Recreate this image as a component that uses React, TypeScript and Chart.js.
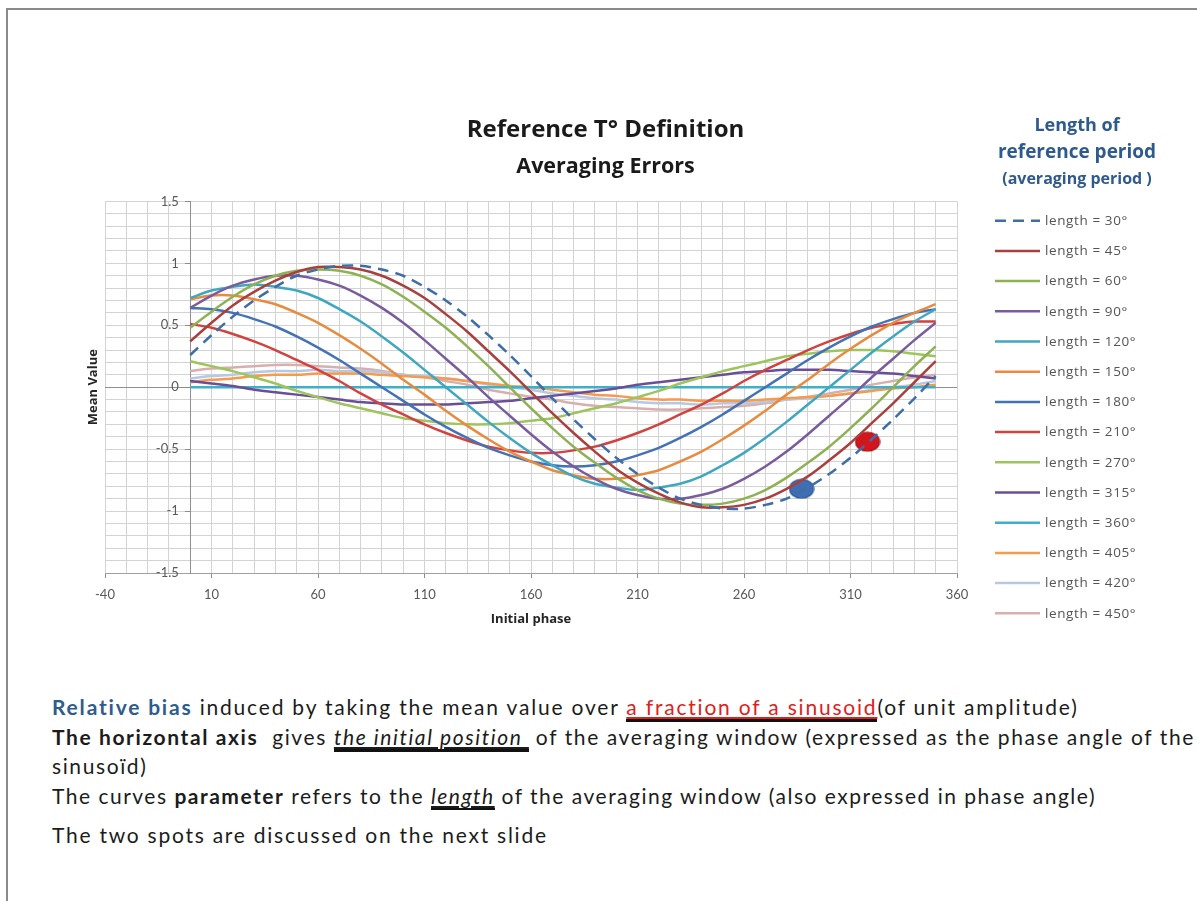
import React, { useEffect, useRef } from 'react';
import { Chart, registerables } from 'chart.js';

Chart.register(...registerables);

// ---- data ----
const phases = [0, 10, 20, 30, 40, 50, 60, 70, 80, 90, 100, 110, 120, 130, 140, 150, 160, 170, 180, 190, 200, 210, 220, 230, 240, 250, 260, 270, 280, 290, 300, 310, 320, 330, 340, 350];

const len30 = [0.26, 0.42, 0.57, 0.70, 0.81, 0.90, 0.95, 0.98, 0.98, 0.95, 0.90, 0.81, 0.70, 0.57, 0.42, 0.26, 0.09, -0.09, -0.26, -0.42, -0.57, -0.70, -0.81, -0.90, -0.95, -0.98, -0.98, -0.95, -0.90, -0.81, -0.70, -0.57, -0.42, -0.26, -0.09, 0.09];
const len45 = [0.37, 0.52, 0.66, 0.77, 0.86, 0.93, 0.97, 0.97, 0.95, 0.90, 0.82, 0.72, 0.59, 0.45, 0.29, 0.13, -0.04, -0.21, -0.37, -0.52, -0.66, -0.77, -0.86, -0.93, -0.97, -0.97, -0.95, -0.90, -0.82, -0.72, -0.59, -0.45, -0.29, -0.13, 0.04, 0.21];
const len60 = [0.48, 0.61, 0.73, 0.83, 0.90, 0.94, 0.95, 0.94, 0.90, 0.83, 0.73, 0.61, 0.48, 0.33, 0.17, 0, -0.17, -0.33, -0.48, -0.61, -0.73, -0.83, -0.90, -0.94, -0.95, -0.94, -0.90, -0.83, -0.73, -0.61, -0.48, -0.33, -0.17, 0, 0.17, 0.33];
const len90 = [0.64, 0.74, 0.82, 0.87, 0.90, 0.90, 0.87, 0.82, 0.74, 0.64, 0.52, 0.38, 0.23, 0.08, -0.08, -0.23, -0.38, -0.52, -0.64, -0.74, -0.82, -0.87, -0.90, -0.90, -0.87, -0.82, -0.74, -0.64, -0.52, -0.38, -0.23, -0.08, 0.08, 0.23, 0.38, 0.52];
const len120 = [0.72, 0.78, 0.81, 0.83, 0.81, 0.78, 0.72, 0.63, 0.53, 0.41, 0.28, 0.14, 0, -0.14, -0.28, -0.41, -0.53, -0.63, -0.72, -0.78, -0.81, -0.83, -0.81, -0.78, -0.72, -0.63, -0.53, -0.41, -0.28, -0.14, 0, 0.14, 0.28, 0.41, 0.53, 0.63];
const len150 = [0.71, 0.74, 0.74, 0.71, 0.67, 0.60, 0.52, 0.42, 0.31, 0.19, 0.06, -0.06, -0.19, -0.31, -0.42, -0.52, -0.60, -0.67, -0.71, -0.74, -0.74, -0.71, -0.67, -0.60, -0.52, -0.42, -0.31, -0.19, -0.06, 0.06, 0.19, 0.31, 0.42, 0.52, 0.60, 0.67];
const len180 = [0.64, 0.63, 0.60, 0.55, 0.49, 0.41, 0.32, 0.22, 0.11, 0, -0.11, -0.22, -0.32, -0.41, -0.49, -0.55, -0.60, -0.63, -0.64, -0.63, -0.60, -0.55, -0.49, -0.41, -0.32, -0.22, -0.11, 0, 0.11, 0.22, 0.32, 0.41, 0.49, 0.55, 0.60, 0.63];
const len210 = [0.51, 0.48, 0.43, 0.37, 0.30, 0.22, 0.14, 0.05, -0.05, -0.14, -0.22, -0.30, -0.37, -0.43, -0.48, -0.51, -0.53, -0.53, -0.51, -0.48, -0.43, -0.37, -0.30, -0.22, -0.14, -0.05, 0.05, 0.14, 0.22, 0.30, 0.37, 0.43, 0.48, 0.51, 0.53, 0.53];
const len270 = [0.21, 0.17, 0.13, 0.08, 0.03, -0.03, -0.08, -0.13, -0.17, -0.21, -0.25, -0.27, -0.29, -0.30, -0.30, -0.29, -0.27, -0.25, -0.21, -0.17, -0.13, -0.08, -0.03, 0.03, 0.08, 0.13, 0.17, 0.21, 0.25, 0.27, 0.29, 0.30, 0.30, 0.29, 0.27, 0.25];
const len315 = [0.05, 0.03, 0.01, -0.02, -0.04, -0.06, -0.08, -0.10, -0.12, -0.13, -0.14, -0.14, -0.14, -0.13, -0.12, -0.11, -0.09, -0.07, -0.05, -0.03, -0.01, 0.02, 0.04, 0.06, 0.08, 0.10, 0.12, 0.13, 0.14, 0.14, 0.14, 0.13, 0.12, 0.11, 0.09, 0.07];
const len360 = [0, 0, 0, 0, 0, 0, 0, 0, 0, 0, 0, 0, 0, 0, 0, 0, 0, 0, 0, 0, 0, 0, 0, 0, 0, 0, 0, 0, 0, 0, 0, 0, 0, 0, 0, 0];
const len405 = [0.04, 0.06, 0.07, 0.09, 0.10, 0.10, 0.11, 0.11, 0.11, 0.10, 0.09, 0.08, 0.07, 0.05, 0.03, 0.01, 0, -0.02, -0.04, -0.06, -0.07, -0.09, -0.10, -0.10, -0.11, -0.11, -0.11, -0.10, -0.09, -0.08, -0.07, -0.05, -0.03, -0.01, 0, 0.02];
const len420 = [0.07, 0.09, 0.10, 0.12, 0.13, 0.13, 0.14, 0.13, 0.13, 0.12, 0.10, 0.09, 0.07, 0.05, 0.02, 0, -0.02, -0.05, -0.07, -0.09, -0.10, -0.12, -0.13, -0.13, -0.14, -0.13, -0.13, -0.12, -0.10, -0.09, -0.07, -0.05, -0.02, 0, 0.02, 0.05];
const len450 = [0.13, 0.15, 0.16, 0.17, 0.18, 0.18, 0.17, 0.16, 0.15, 0.13, 0.10, 0.08, 0.05, 0.02, -0.02, -0.05, -0.08, -0.10, -0.13, -0.15, -0.16, -0.17, -0.18, -0.18, -0.17, -0.16, -0.15, -0.13, -0.10, -0.08, -0.05, -0.02, 0.02, 0.05, 0.08, 0.10];

const seriesLabels = ['length = 30°', 'length = 45°', 'length = 60°', 'length = 90°', 'length = 120°', 'length = 150°', 'length = 180°', 'length = 210°', 'length = 270°', 'length = 315°', 'length = 360°', 'length = 405°', 'length = 420°', 'length = 450°'];
const seriesValues = [len30, len45, len60, len90, len120, len150, len180, len210, len270, len315, len360, len405, len420, len450];
const seriesColors = ['#3E6DA8', '#A9403D', '#8EB253', '#7A5C9E', '#3FA7C0', '#E98B3F', '#4472B6', '#D2423E', '#9CC55C', '#6A4E99', '#3DB0CA', '#F59B4D', '#B7C8E4', '#D8AFAD'];

const spotPhases = [287, 318];
const spotValues = [-0.82, -0.44];
const spotColors = ['#3F6FB2', '#D3161E'];

const xMajorTicks = [-40, 10, 60, 110, 160, 210, 260, 310, 360];
const yMajorTicks = [-1.5, -1, -0.5, 0, 0.5, 1, 1.5];

const FONT = 'Lato, "Open Sans", sans-serif';
const WIDE = '"Open Sans", Lato, sans-serif';

function isMajorX(v: number) {
  return xMajorTicks.some((t) => Math.abs(t - v) < 1e-6);
}
function isMajorY(v: number) {
  return yMajorTicks.some((t) => Math.abs(t - v) < 1e-6);
}

function ellipseStyle(fill: string, stroke: string) {
  const c = document.createElement('canvas');
  c.width = 26;
  c.height = 21;
  const g = c.getContext('2d')!;
  g.beginPath();
  g.ellipse(13, 10.5, 12, 9.5, 0, 0, Math.PI * 2);
  g.fillStyle = fill;
  g.fill();
  g.lineWidth = 1.2;
  g.strokeStyle = stroke;
  g.stroke();
  return c;
}

const sideLegend = {
  id: 'sideLegend',
  afterDraw(chart: any) {
    const { ctx, chartArea } = chart;
    const cx = chartArea.right + 120;
    ctx.save();
    ctx.fillStyle = '#2F5A8C';
    ctx.textAlign = 'center';
    ctx.textBaseline = 'middle';
    ctx.font = `bold 18px ${WIDE}`;
    ctx.fillText('Length of', cx, 126);
    ctx.font = `bold 19px ${WIDE}`;
    ctx.fillText('reference period', cx, 153);
    ctx.font = `bold 16px ${WIDE}`;
    ctx.fillText('(averaging period )', cx, 179);

    const x0 = chartArea.right + 38;
    const x1 = chartArea.right + 83;
    ctx.textAlign = 'left';
    ctx.font = `13.5px ${WIDE}`;
    try {
      (ctx as any).letterSpacing = '0.6px';
    } catch (e) {
      /* ignore */
    }
    chart.data.datasets.forEach((ds: any, i: number) => {
      if (i >= seriesLabels.length) return;
      const y = chartArea.top + 19.3 + i * 30.2;
      ctx.beginPath();
      ctx.setLineDash(ds.borderDash || []);
      ctx.lineWidth = ds.borderWidth;
      ctx.strokeStyle = ds.borderColor;
      ctx.moveTo(x0, y);
      ctx.lineTo(x1, y);
      ctx.stroke();
      ctx.setLineDash([]);
      ctx.fillStyle = '#555555';
      ctx.fillText(ds.label, x1 + 5, y + 0.5);
    });
    try {
      (ctx as any).letterSpacing = '0px';
    } catch (e) {
      /* ignore */
    }
    ctx.restore();
  },
};

function ChartCanvas() {
  const ref = useRef<HTMLCanvasElement | null>(null);
  useEffect(() => {
    if (!ref.current) return;
    const curveSets = seriesValues.map((vals, i) => ({
      label: seriesLabels[i],
      data: phases.map((p, k) => ({ x: p, y: vals[k] })),
      borderColor: seriesColors[i],
      backgroundColor: seriesColors[i],
      borderWidth: 2.5,
      borderDash: i === 0 ? [11, 7] : [],
      pointRadius: 0,
      tension: 0.3,
      fill: false,
      order: 0,
      yAxisID: 'y',
      xAxisID: 'x',
    }));
    const spotSets = spotPhases.map((p, i) => ({
      label: 'spot ' + (i + 1),
      data: [{ x: p, y: spotValues[i] }],
      showLine: false,
      pointStyle: ellipseStyle(spotColors[i], i === 0 ? '#2B5592' : '#A80F15'),
      pointRadius: 10,
      order: 1,
      yAxisID: 'y',
      xAxisID: 'x',
    }));

    const chart = new Chart(ref.current, {
      type: 'line',
      data: { datasets: [...curveSets, ...spotSets] as any },
      options: {
        animation: false,
        responsive: false,
        devicePixelRatio: 1,
        layout: { padding: { left: 14, right: 0, top: 0, bottom: 32.8 }, autoPadding: false },
        plugins: {
          legend: { display: false },
          tooltip: { enabled: false },
          title: {
            display: true,
            text: 'Reference T° Definition',
            color: '#1a1a1a',
            font: { family: WIDE, size: 24, weight: 'bold' },
            padding: { top: 115.6, bottom: 0 },
          },
          subtitle: {
            display: true,
            text: 'Averaging Errors',
            color: '#1a1a1a',
            font: { family: WIDE, size: 21.5, weight: 'bold' },
            padding: { top: 9.3, bottom: 21.9 },
          },
        },
        scales: {
          x: {
            type: 'linear',
            position: 'bottom',
            min: -40,
            max: 360,
            ticks: {
              stepSize: 10,
              autoSkip: false,
              maxRotation: 0,
              padding: 9,
              color: '#595959',
              font: { family: FONT, size: 13 },
              callback: (v: any) => (isMajorX(Number(v)) ? String(v) : ''),
            },
            grid: {
              color: '#d3d3d3',
              lineWidth: 1,
              tickLength: 5,
              tickColor: (c: any) => (c.tick && isMajorX(c.tick.value) ? '#8c8c8c' : 'rgba(0,0,0,0)'),
            },
            border: { display: true, color: '#a0a0a0' },
            title: {
              display: true,
              text: 'Initial phase',
              color: '#262626',
              font: { family: WIDE, size: 13, weight: 'bold' },
              padding: { top: 0, bottom: 0 },
            },
          },
          y: {
            type: 'linear',
            axis: 'y',
            position: { x: 0 },
            min: -1.5,
            max: 1.5,
            ticks: {
              stepSize: 0.1,
              autoSkip: false,
              color: '#595959',
              font: { family: FONT, size: 13 },
              callback: (v: any) => {
                const n = Number(v);
                if (!isMajorY(n)) return '';
                return String(Math.round(n * 10) / 10) + '\u2003\u2009';
              },
            },
            grid: {
              color: (c: any) => (c.tick && Math.abs(c.tick.value) < 1e-6 ? '#8f8f8f' : '#d3d3d3'),
              lineWidth: 1,
              tickLength: 5,
              tickColor: (c: any) => (c.tick && isMajorY(c.tick.value) ? '#8c8c8c' : 'rgba(0,0,0,0)'),
            },
            border: { display: true, color: '#8f8f8f' },
          },
          yL: {
            type: 'linear',
            axis: 'y',
            position: 'left',
            min: -1.5,
            max: 1.5,
            display: true,
            ticks: { display: false },
            grid: { display: false, drawTicks: false },
            border: { display: false },
            title: {
              display: true,
              text: 'Mean Value',
              color: '#262626',
              font: { family: WIDE, size: 13, weight: 'bold' },
              padding: { top: 71.2, bottom: 0 },
            },
            afterFit: (s: any) => {
              s.width = 91;
            },
          },
          yR: {
            type: 'linear',
            axis: 'y',
            position: 'right',
            min: -1.5,
            max: 1.5,
            display: true,
            ticks: { display: false },
            grid: { display: false, drawTicks: false },
            border: { display: false },
            afterFit: (s: any) => {
              s.width = 240;
            },
          },
        },
      } as any,
      plugins: [sideLegend],
    });
    return () => chart.destroy();
  }, []);
  return <canvas ref={ref} width={1197} height={660} style={{ position: 'absolute', left: 0, top: 0, width: 1197, height: 660 }} />;
}

const textLine: React.CSSProperties = {
  position: 'absolute',
  left: 52,
  height: 30,
  lineHeight: '30px',
  whiteSpace: 'nowrap',
  fontFamily: FONT,
  fontSize: 21,
  letterSpacing: '1.5px',
  color: '#1c1c1c',
};

export default function App() {
  return (
    <div style={{ position: 'absolute', left: 0, top: 0, width: 1197, height: 901, overflow: 'hidden', background: '#ffffff' }}>
      <div style={{ position: 'absolute', left: 6, top: 8, width: 1400, height: 1200, borderTop: '2px solid #8a8a8a', borderLeft: '2px solid #8a8a8a', boxSizing: 'border-box' }} />
      <ChartCanvas />
      <div style={{ ...textLine, top: 692, letterSpacing: '1.8px' }}>
        <span style={{ color: '#2E5C8F', fontWeight: 700 }}>Relative bias</span> induced by taking the mean value over{' '}
        <span style={{ color: '#E0201C', textDecoration: 'underline', borderBottom: '3px solid #111' }}>a fraction of a sinusoid</span>(of unit amplitude)
      </div>
      <div style={{ ...textLine, top: 722, letterSpacing: '1.6px' }}>
        <b>The horizontal axis</b>&nbsp; gives{' '}
        <span style={{ fontStyle: 'italic', textDecoration: 'underline', borderBottom: '3px solid #111' }}>the initial position&nbsp;</span> of the averaging window (expressed as the phase angle of the
      </div>
      <div style={{ ...textLine, top: 751, letterSpacing: '1.6px' }}>sinusoïd)</div>
      <div style={{ ...textLine, top: 781, letterSpacing: '1.5px' }}>
        The curves <b>parameter</b> refers to the{' '}
        <span style={{ fontStyle: 'italic', textDecoration: 'underline', borderBottom: '2px solid #111' }}>length</span> of the averaging window (also expressed in phase angle)
      </div>
      <div style={{ ...textLine, top: 820, letterSpacing: '1.75px' }}>The two spots are discussed on the next slide</div>
    </div>
  );
}
